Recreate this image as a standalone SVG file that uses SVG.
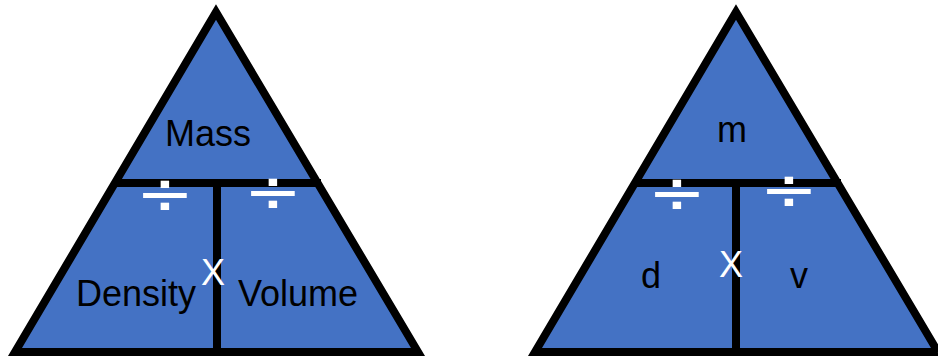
<svg xmlns="http://www.w3.org/2000/svg" width="938" height="356" viewBox="0 0 938 356">
  <style>
    .tri { fill: #4472C4; stroke: #000; stroke-width: 8; stroke-linejoin: miter; stroke-miterlimit: 10; }
    .bar { stroke: #000; stroke-width: 8; fill: none; }
    .lbl { font-family: "Liberation Sans", Arial, sans-serif; font-size: 36px; fill: #000; text-anchor: middle; }
    .op { font-family: "Liberation Sans", Arial, sans-serif; font-size: 36px; fill: #fff; text-anchor: middle; }
    .div { font-family: "DejaVu Sans", sans-serif; font-size: 48px; fill: #fff; text-anchor: middle; }
  </style>
  <rect width="938" height="356" fill="#fff"/>

  <g id="left-triangle">
    <polygon class="tri" points="216,12 15,352 418,352"/>
  </g>
  <g id="right-triangle">
    <polygon class="tri" points="736,12 535,352 938,352"/>
  </g>

  <g id="connectors">
    <line class="bar" x1="113" y1="183" x2="321" y2="183"/>
    <line class="bar" x1="217" y1="183" x2="217" y2="356"/>
    <line class="bar" x1="633" y1="183" x2="841" y2="183"/>
    <line class="bar" x1="736" y1="183" x2="736" y2="356"/>
  </g>

  <g id="left-labels">
    <g id="mass"><text class="lbl" x="208" y="146">Mass</text></g>
    <g id="density"><text class="lbl" x="136" y="306">Density</text></g>
    <g id="volume"><text class="lbl" x="298" y="306">Volume</text></g>
    <g id="left-times"><text class="op" x="213" y="285">X</text></g>
    <g id="left-div1" transform="translate(165,195.5) scale(1.45,1.25)"><text class="div" x="0" y="15">÷</text></g>
    <g id="left-div2" transform="translate(273,193.5) scale(1.45,1.25)"><text class="div" x="0" y="15">÷</text></g>
  </g>

  <g id="right-labels">
    <g id="m"><text class="lbl" x="732" y="142" font-size="37">m</text></g>
    <g id="d"><text class="lbl" x="651" y="288">d</text></g>
    <g id="v"><text class="lbl" x="799" y="288">v</text></g>
    <g id="right-times"><text class="op" x="731" y="277">X</text></g>
    <g id="right-div1" transform="translate(677,194) scale(1.45,1.25)"><text class="div" x="0" y="15">÷</text></g>
    <g id="right-div2" transform="translate(789,191.3) scale(1.45,1.25)"><text class="div" x="0" y="15">÷</text></g>
  </g>
</svg>
